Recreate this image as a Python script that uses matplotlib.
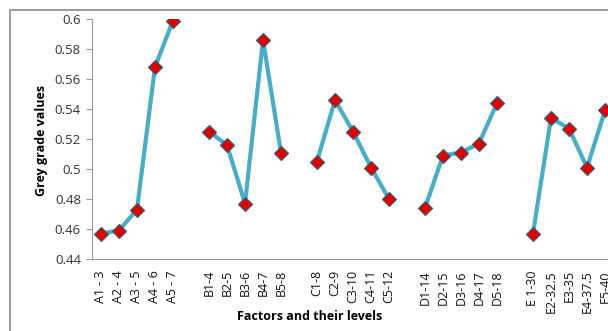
import numpy as np
import matplotlib
matplotlib.use("Agg")
import matplotlib.pyplot as plt
from matplotlib.patches import Rectangle

nan = np.nan
categories = ["A1 - 3", "A2 - 4", "A3 - 5", "A4 - 6", "A5 - 7", "",
              "B1-4", "B2-5", "B3-6", "B4-7", "B5-8", "",
              "C1-8", "C2-9", "C3-10", "C4-11", "C5-12", "",
              "D1-14", "D2-15", "D3-16", "D4-17", "D5-18", "",
              "E 1-30", "E2-32.5", "E3-35", "E4-37.5", "E5-40"]
values = [0.457, 0.459, 0.473, 0.568, 0.599, nan,
          0.525, 0.516, 0.477, 0.586, 0.511, nan,
          0.505, 0.546, 0.525, 0.501, 0.480, nan,
          0.474, 0.509, 0.511, 0.517, 0.544, nan,
          0.457, 0.534, 0.527, 0.501, 0.539]
yticks = [0.44, 0.46, 0.48, 0.5, 0.52, 0.54, 0.56, 0.58, 0.6]
ytick_labels = ["0.44", "0.46", "0.48", "0.5", "0.52", "0.54", "0.56", "0.58", "0.6"]

W, H = 608, 331
fig = plt.figure(figsize=(W / 100, H / 100), dpi=100)
fig.patch.set_facecolor("white")

# outer chart border
fig.patches.append(Rectangle((10 / W, -0.1), 1.2, (H - 10) / H + 0.1,
                             transform=fig.transFigure, fill=False,
                             edgecolor="#8c8c8c", linewidth=1.2, zorder=0))

font = "Open Sans"
ax_left, ax_right, ax_top, ax_bottom = 92, 614, 19, 259
ax = fig.add_axes([ax_left / W, 1 - ax_bottom / H,
                   (ax_right - ax_left) / W, (ax_bottom - ax_top) / H])
ax.set_facecolor("none")

x = np.arange(len(categories))
ax.plot(x, values, color="#4BACC6", linewidth=3.0, solid_joinstyle="round",
        solid_capstyle="round", zorder=2)
ax.plot(x, values, linestyle="none", marker="D", markersize=7.5,
        markerfacecolor="#E00000", markeredgecolor="#3a6070",
        markeredgewidth=0.9, zorder=3)

ax.set_xlim(-0.5, len(categories) - 0.5)
ax.set_ylim(0.44, 0.6)
ax.set_yticks(yticks)
ax.set_yticklabels(ytick_labels, fontfamily=font, fontsize=9.5, color="#333333")
ax.set_xticks(x)
ax.set_xticklabels(categories, rotation=90, fontfamily=font, fontsize=9,
                   color="#111111")
ax.tick_params(axis="x", length=0, pad=8)
ax.tick_params(axis="y", length=4, color="#9a9a9a", width=0.8, pad=4)

for s in ["top", "right"]:
    ax.spines[s].set_visible(False)
ax.spines["left"].set_color("#9a9a9a")
ax.spines["bottom"].set_color("#9a9a9a")
ax.spines["left"].set_linewidth(0.8)
ax.spines["bottom"].set_linewidth(0.8)

fig.text(42 / W, 1 - 140 / H, "Grey grade values", rotation=90, ha="center",
         va="center", fontfamily=font, fontweight="bold", fontsize=9)
fig.text(310 / W, 1 - 316 / H, "Factors and their levels", ha="center",
         va="center", fontfamily=font, fontweight="bold", fontsize=9)

fig.savefig("out.png", dpi=100, facecolor="white")
